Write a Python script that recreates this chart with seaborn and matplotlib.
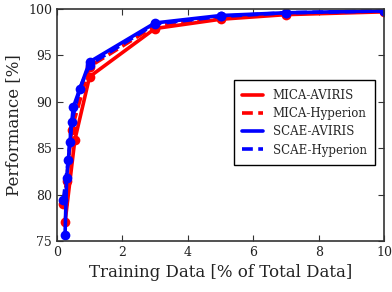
import matplotlib
matplotlib.use("Agg")
import matplotlib.pyplot as plt
from matplotlib.lines import Line2D
import seaborn as sns
import pandas as pd

series_names = ["MICA-AVIRIS", "MICA-Hyperion", "SCAE-AVIRIS", "SCAE-Hyperion"]

mica_aviris_x = [0.25, 0.55, 1, 3, 5, 7, 10]
mica_aviris_y = [77.0, 85.9, 92.7, 97.9, 98.9, 99.4, 99.7]

mica_hyperion_x = [0.2, 0.3, 0.45, 1, 3, 5, 7, 10]
mica_hyperion_y = [79.0, 81.5, 87.0, 93.8, 98.2, 99.1, 99.5, 99.8]

scae_aviris_x = [0.25, 0.3, 0.4, 0.5, 1, 3, 5, 7, 10]
scae_aviris_y = [75.6, 81.8, 85.7, 89.4, 94.3, 98.5, 99.3, 99.6, 99.8]

scae_hyperion_x = [0.2, 0.35, 0.45, 0.7, 1, 3, 5, 7, 10]
scae_hyperion_y = [79.4, 83.7, 87.8, 91.4, 94.0, 98.4, 99.2, 99.6, 99.8]

rows = []
for name, xs, ys in zip(series_names,
                        [mica_aviris_x, mica_hyperion_x, scae_aviris_x, scae_hyperion_x],
                        [mica_aviris_y, mica_hyperion_y, scae_aviris_y, scae_hyperion_y]):
    for xv, yv in zip(xs, ys):
        rows.append({"series": name, "x": xv, "y": yv})
df = pd.DataFrame(rows)

sns.set_style("ticks")
plt.rcParams["font.family"] = ["DejaVu Serif"]

fig = plt.figure(figsize=(3.92, 2.92), dpi=100)
ax = fig.add_axes([0.145, 0.175, 0.835, 0.794])

palette = {"MICA-AVIRIS": "#ff0000", "MICA-Hyperion": "#ff0000",
           "SCAE-AVIRIS": "#0000ff", "SCAE-Hyperion": "#0000ff"}
dashes = {"MICA-AVIRIS": "", "MICA-Hyperion": (3, 1.5),
          "SCAE-AVIRIS": "", "SCAE-Hyperion": (3, 1.5)}

sns.lineplot(data=df, x="x", y="y", hue="series", style="series",
             hue_order=series_names, style_order=series_names,
             palette=palette, dashes=dashes, markers={n: "o" for n in series_names},
             markersize=7, markeredgewidth=0, linewidth=2.6, sort=False,
             estimator=None, legend=False, ax=ax)

ax.set_xlim(0, 10)
ax.set_ylim(75, 100)
ax.set_xticks([0, 2, 4, 6, 8, 10])
ax.set_yticks([75, 80, 85, 90, 95, 100])
ax.tick_params(direction="in", top=True, right=True, length=4, width=0.8,
               labelsize=9, colors="#333333", labelcolor="#222222")
for sp in ax.spines.values():
    sp.set_color("#333333")
    sp.set_linewidth(1.2)
ax.set_xlabel("Training Data [% of Total Data]", fontsize=12, color="#222222")
ax.set_ylabel("Performance [%]", fontsize=12, color="#222222")

handles = [
    Line2D([], [], color="#ff0000", lw=2.6),
    Line2D([], [], color="#ff0000", lw=2.6, dashes=(3, 1.5)),
    Line2D([], [], color="#0000ff", lw=2.6),
    Line2D([], [], color="#0000ff", lw=2.6, dashes=(3, 1.5)),
]
leg = ax.legend(handles, series_names, loc="center right",
                bbox_to_anchor=(0.99, 0.51), fontsize=8.5, fancybox=False,
                framealpha=1, edgecolor="black", handlelength=1.8,
                labelspacing=0.45, borderpad=0.7)
leg.get_frame().set_linewidth(1.0)

fig.savefig("out.png", dpi=100)
